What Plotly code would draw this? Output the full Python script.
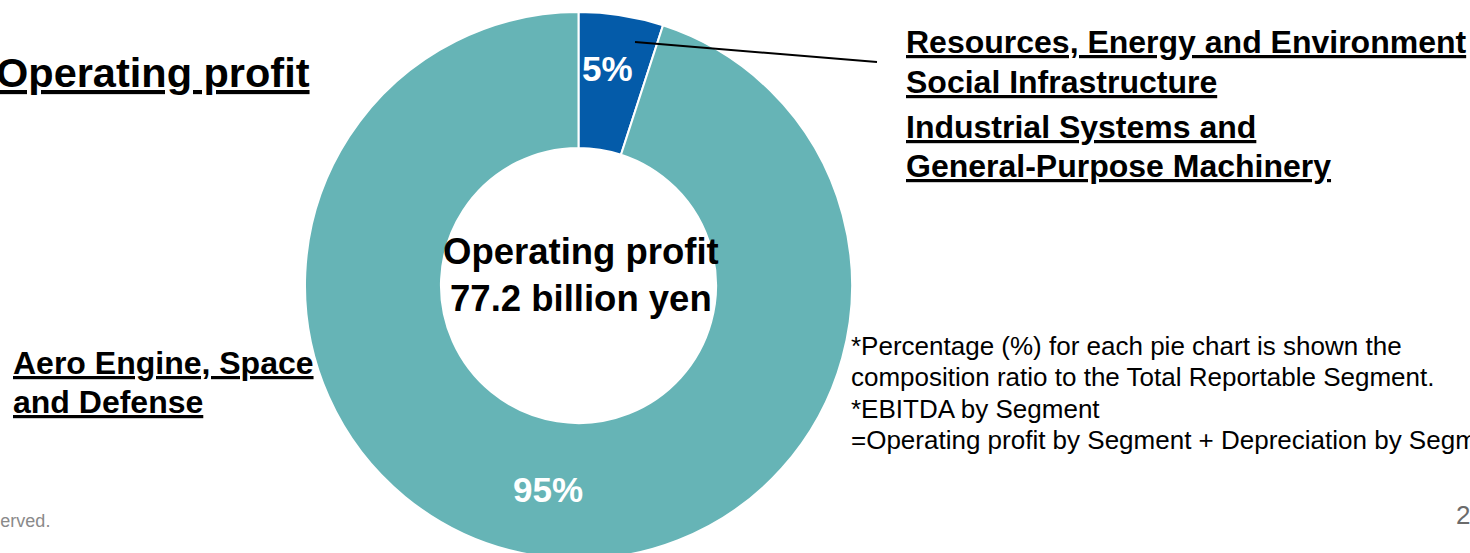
import plotly.graph_objects as go

# Segment composition of operating profit
segments = ["Resources, Energy and Environment / Social Infrastructure / Industrial Systems and General-Purpose Machinery",
            "Aero Engine, Space and Defense"]
shares = [5, 95]
colors = ["#045BA9", "#66B4B6"]
total_label = "Operating profit<br>77.2 billion yen"

W, H = 1470, 571
MT, MB = 12, 12
FONT = "Liberation Sans, Arial, sans-serif"


def px(x):
    return x / W


def py(y):
    # pixel row (from top) -> paper fraction inside the plot area
    return (H - MB - y) / (H - MT - MB)


fig = go.Figure(
    go.Pie(
        labels=segments,
        values=shares,
        marker=dict(colors=colors, line=dict(color="white", width=2)),
        hole=0.503,
        sort=False,
        direction="clockwise",
        rotation=0,
        textinfo="none",
        hoverinfo="label+percent",
        showlegend=False,
        domain=dict(x=[px(305), px(852)], y=[0, 1]),
    )
)

pct = [f"{v / sum(shares) * 100:.0f}%" for v in shares]

ann = []


def add(text, x, y, size, xanchor="left", color="black", bold=False, underline=False):
    t = text
    if underline:
        t = f"<u>{t}</u>"
    if bold:
        t = f"<b>{t}</b>"
    ann.append(dict(text=t, x=px(x), y=py(y), xref="paper", yref="paper",
                    xanchor=xanchor, yanchor="middle", showarrow=False,
                    font=dict(family=FONT, size=size, color=color)))


# Slice percentages
add(pct[0], 607, 69, 35, xanchor="center", color="white", bold=True)
add(pct[1], 548, 490, 35, xanchor="center", color="white", bold=True)

# Total in the hole
add(total_label, 581, 275, 36.5, xanchor="center", bold=True)

# Heading
add("Operating profit", 312, 72, 41.5, xanchor="right", bold=True, underline=True)

# Segment names
add("Resources, Energy and Environment", 904, 42, 32, bold=True, underline=True)
add("Social Infrastructure", 904, 82, 32, bold=True, underline=True)
add("Industrial Systems and", 904, 127, 32, bold=True, underline=True)
add("General-Purpose Machinery", 904, 166, 32, bold=True, underline=True)
add("Aero Engine, Space", 11, 363, 32, bold=True, underline=True)
add("and Defense", 11, 402, 32, bold=True, underline=True)

# Notes
notes = [
    "*Percentage (%) for each pie chart is shown the",
    "composition ratio to the Total Reportable Segment.",
    "*EBITDA by Segment",
    "=Operating profit by Segment + Depreciation by Segment",
]
for i, line in enumerate(notes):
    add(line, 849, 346 + i * 31.3, 26)

# Footer
add("2", 1454, 515, 26, color="#6b6b6b")
add("© IHI Corporation All rights reserved.", 52, 521, 18, xanchor="right", color="#8a8a8a")

fig.update_layout(
    width=W,
    height=H,
    margin=dict(l=0, r=0, t=MT, b=MB, pad=0),
    paper_bgcolor="white",
    plot_bgcolor="white",
    annotations=ann,
    shapes=[dict(type="line", xref="paper", yref="paper",
                 x0=px(635), y0=py(42), x1=px(877), y1=py(62),
                 line=dict(color="black", width=2))],
)

fig.write_html(
    "out.html",
    post_script="document.documentElement.style.overflow='hidden';document.body.style.overflow='hidden';document.body.style.margin='0';",
)
